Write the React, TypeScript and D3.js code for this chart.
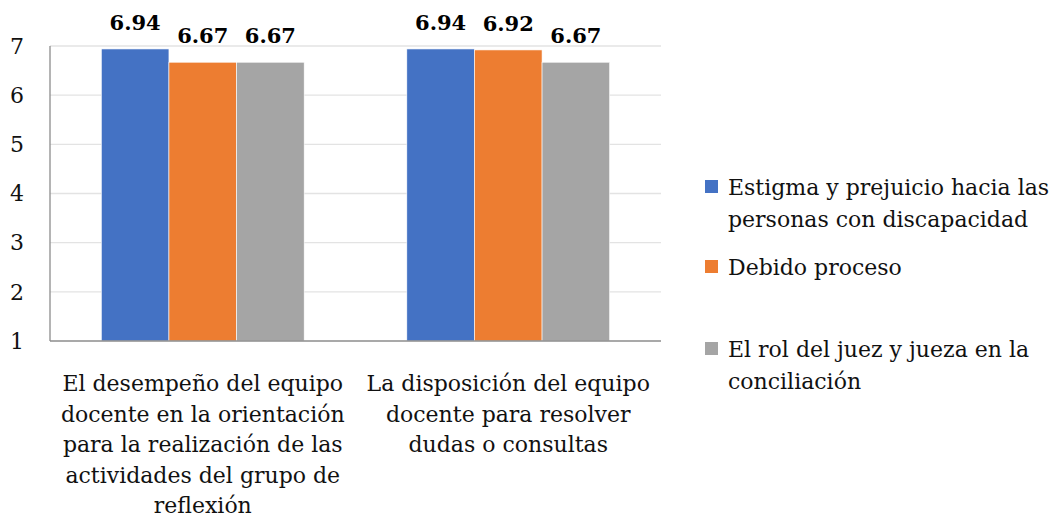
import * as d3 from "d3";
import React from "react";

const categories = [
  "El desempeño del equipo docente en la orientación para la realización de las actividades del grupo de reflexión",
  "La disposición del equipo docente para resolver dudas o consultas",
];
const categoryLines = [
  ["El desempeño del equipo", "docente en la orientación", "para la realización de las", "actividades del grupo de", "reflexión"],
  ["La disposición del equipo", "docente para resolver", "dudas o consultas"],
];
const seriesNames = [
  "Estigma y prejuicio hacia las personas con discapacidad",
  "Debido proceso",
  "El rol del juez y jueza en la conciliación",
];
const legendLines = [
  ["Estigma y prejuicio hacia las", "personas con discapacidad"],
  ["Debido proceso"],
  ["El rol del juez y jueza en la", "conciliación"],
];
const estigma = [6.94, 6.94];
const debido = [6.67, 6.92];
const rolJuez = [6.67, 6.67];
const yTicks = [1, 2, 3, 4, 5, 6, 7];
const colors = ["#4472C4", "#ED7D31", "#A5A5A5"];

const W = 1053;
const H = 522;
const font = "DejaVu Serif";

const App: React.FC = () => {
  const left = 50;
  const right = 661;
  const top = 46;
  const bottom = 341;
  const series = [estigma, debido, rolJuez];

  const x0 = d3.scaleBand<string>().domain(categories).range([left, right]).padding(0);
  const inner = x0.bandwidth();
  const x1 = d3
    .scaleBand<string>()
    .domain(seriesNames)
    .range([inner * 0.168, inner * 0.832])
    .padding(0);
  const y = d3.scaleLinear().domain([1, 7]).range([bottom, top]);

  const legendY = [187, 267, 349];

  return (
    <svg width={W} height={H} style={{ position: "absolute", left: 0, top: 0 }}>
      <rect width={W} height={H} fill="#fff" />
      {yTicks.map((t) => (
        <g key={t}>
          {t > 1 && <line x1={left} x2={right} y1={y(t)} y2={y(t)} stroke="#e3e3e3" strokeWidth={1.3} />}
          <text x={17} y={y(t)} dy="0.35em" textAnchor="middle" fontFamily={font} fontSize={22} fill="#111">
            {t}
          </text>
        </g>
      ))}
      {categories.map((c, ci) => (
        <g key={c} transform={`translate(${x0(c)},0)`}>
          {series.map((vals, si) => {
            const bx = x1(seriesNames[si]) || 0;
            return (
              <g key={si}>
                <rect
                  x={bx}
                  y={y(vals[ci])}
                  width={x1.bandwidth()}
                  height={y(1) - y(vals[ci])}
                  fill={colors[si]}
                  stroke="#fff"
                  strokeWidth={0.6}
                />
                <text
                  x={bx + x1.bandwidth() / 2}
                  y={y(vals[ci]) - 19}
                  textAnchor="middle"
                  fontFamily={font}
                  fontSize={21}
                  fontWeight="bold"
                  fill="#000"
                >
                  {vals[ci].toFixed(2)}
                </text>
              </g>
            );
          })}
          {categoryLines[ci].map((ln, li) => (
            <text
              key={li}
              x={inner / 2}
              y={391 + li * 30.5}
              textAnchor="middle"
              fontFamily={font}
              fontSize={22}
              fill="#111"
            >
              {ln}
            </text>
          ))}
        </g>
      ))}
      <line x1={left} x2={left} y1={top} y2={bottom} stroke="#8c8c8c" strokeWidth={1.3} />
      <line x1={left} x2={right} y1={bottom} y2={bottom} stroke="#8c8c8c" strokeWidth={1.3} />
      {seriesNames.map((s, si) => (
        <g key={s}>
          <rect x={705} y={legendY[si] - 7} width={13} height={13} fill={colors[si]} />
          {legendLines[si].map((ln, li) => (
            <text key={li} x={728} y={legendY[si] + li * 32.5} dy="0.35em" fontFamily={font} fontSize={22} fill="#111">
              {ln}
            </text>
          ))}
        </g>
      ))}
    </svg>
  );
};

export default App;
